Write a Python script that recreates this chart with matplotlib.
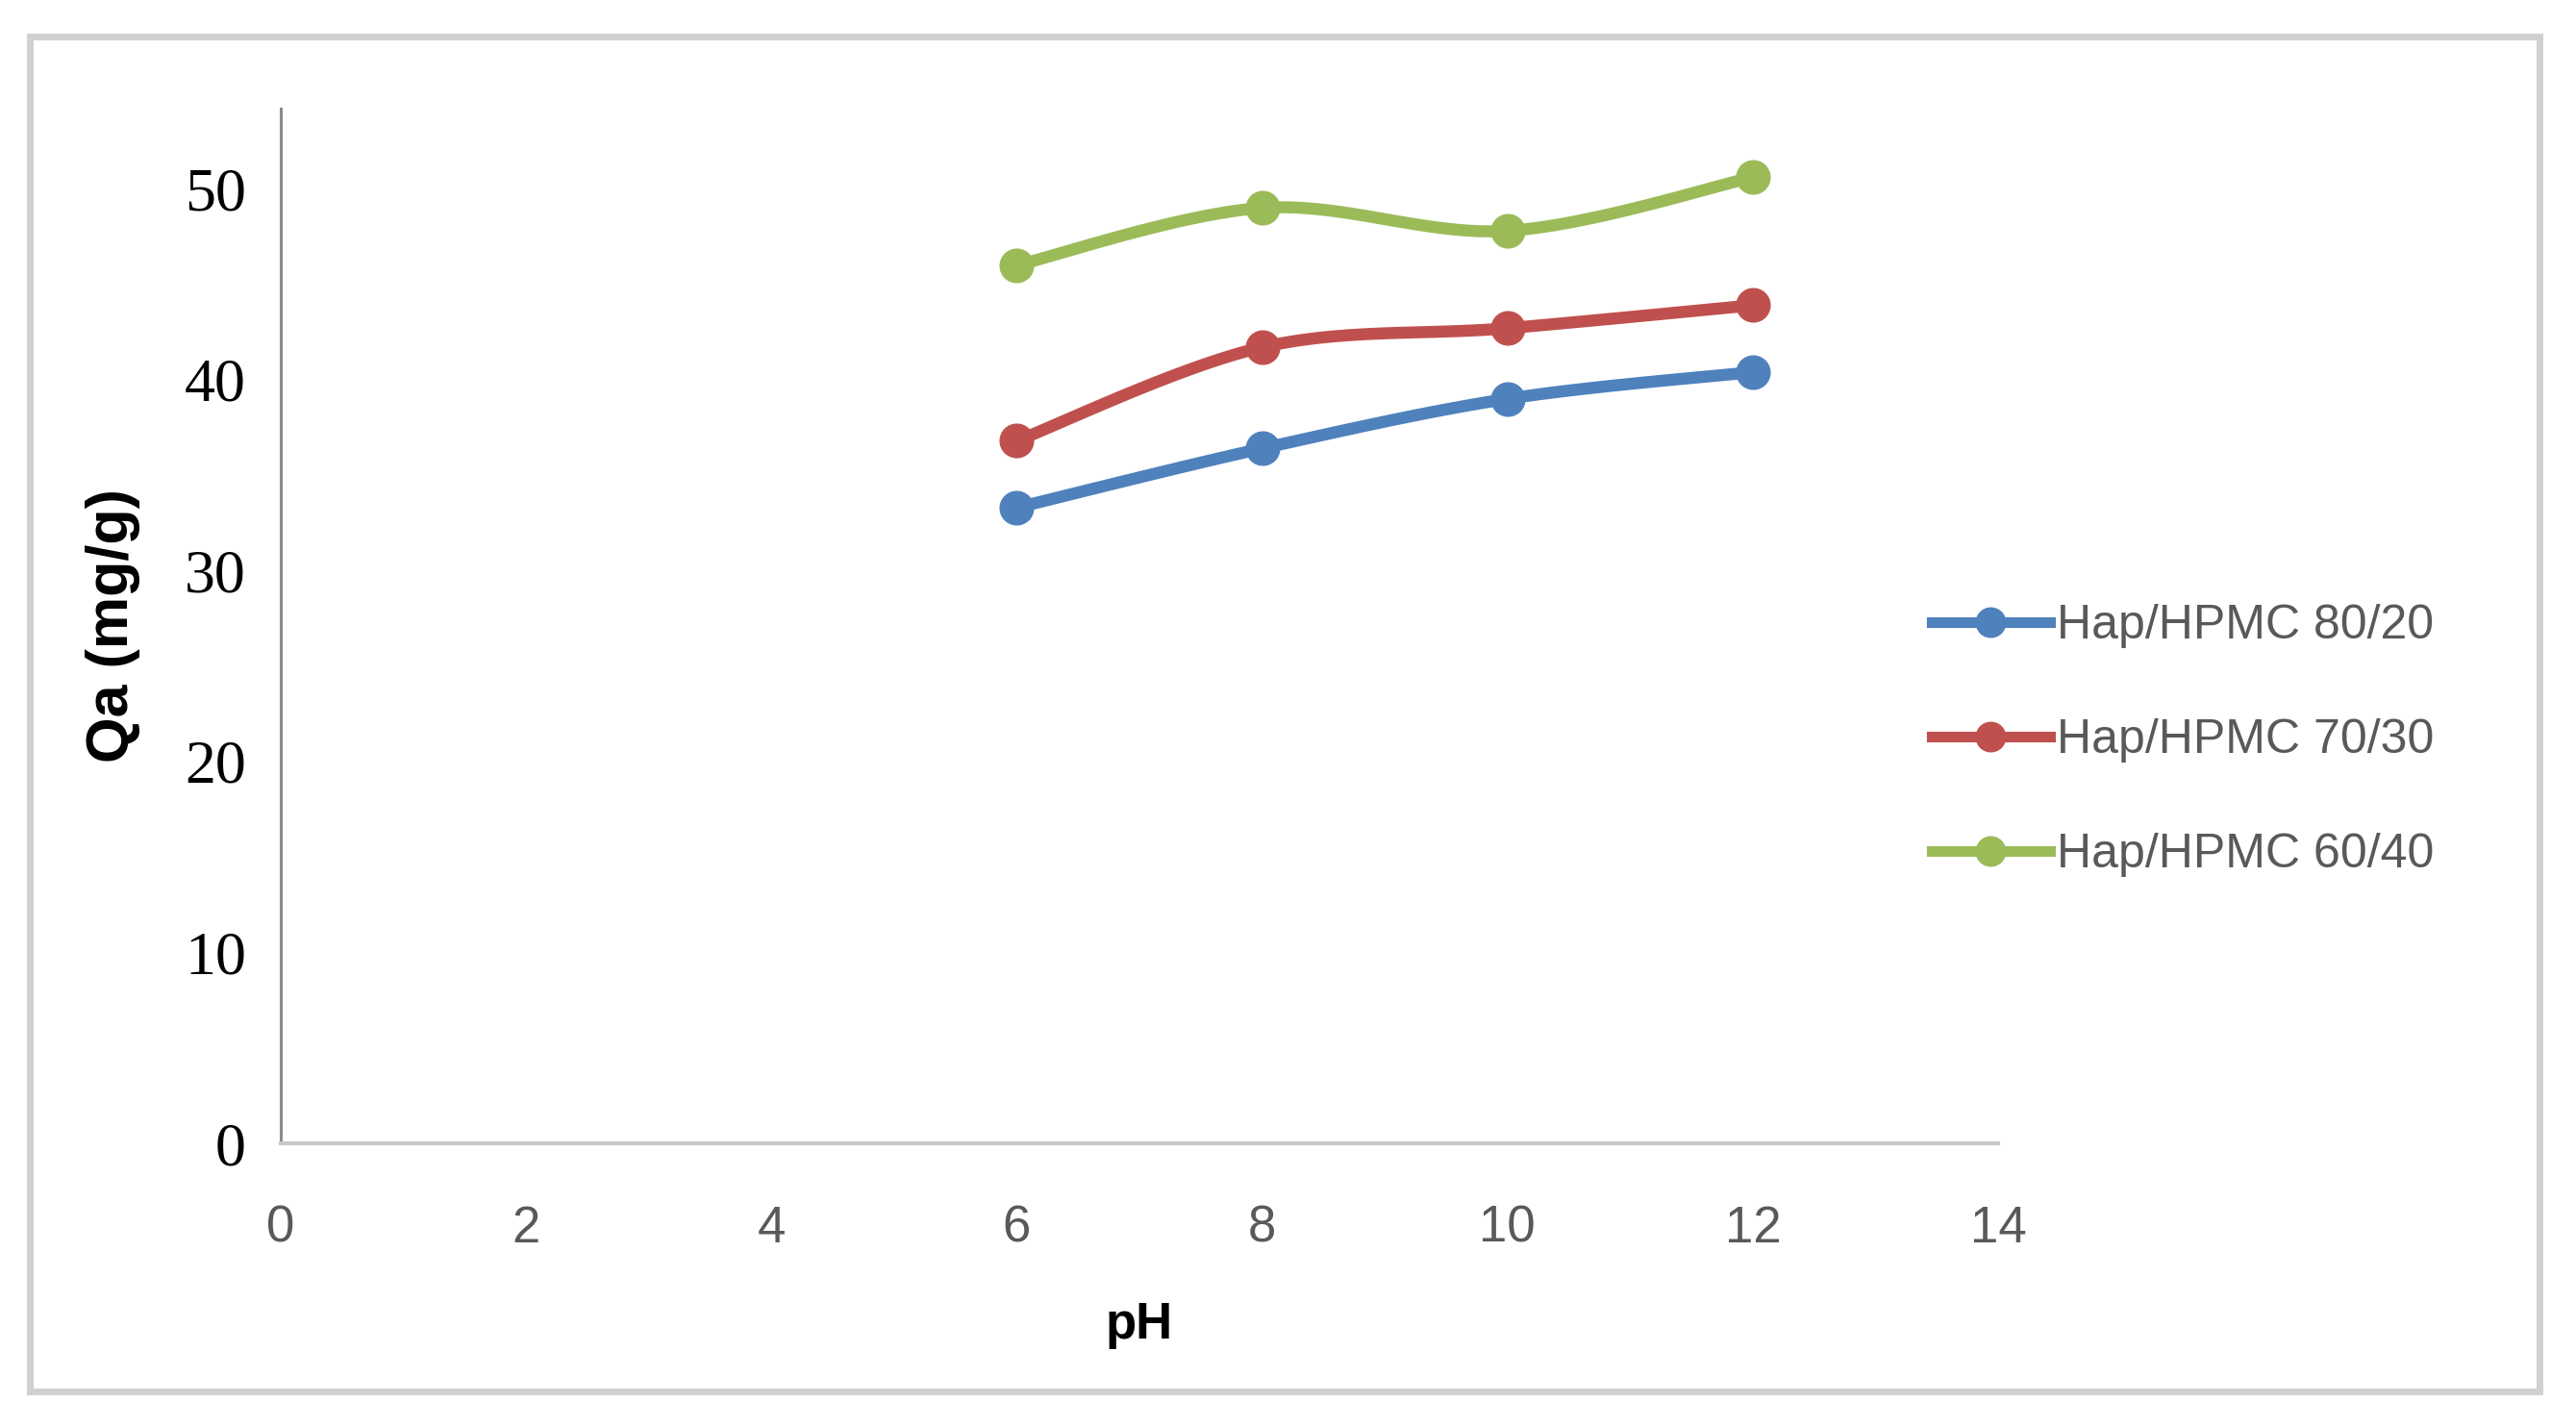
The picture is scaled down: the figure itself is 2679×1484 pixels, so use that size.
import numpy as np
import matplotlib
matplotlib.use("Agg")
import matplotlib.pyplot as plt
from matplotlib.patches import Rectangle
from matplotlib.lines import Line2D

# ---- data ----
ph = [6, 8, 10, 12]
s_80_20 = [33.3, 36.4, 39.0, 40.4]
s_70_30 = [36.8, 41.7, 42.7, 43.9]
s_60_40 = [46.0, 49.0, 47.8, 50.6]
labels = ["Hap/HPMC 80/20", "Hap/HPMC 70/30", "Hap/HPMC 60/40"]
colors = ["#4f81bd", "#c0504d", "#9bbb59"]
xticks = [0, 2, 4, 6, 8, 10, 12, 14]
yticks = [0, 10, 20, 30, 40, 50]


def smooth(x, y, n=40):
    """Excel-like smoothed line (Catmull-Rom style Bezier) through the points."""
    x = np.asarray(x, float)
    y = np.asarray(y, float)
    P = np.column_stack([x, y])
    out = []
    for i in range(len(P) - 1):
        p0 = P[i - 1] if i > 0 else P[i]
        p1 = P[i]
        p2 = P[i + 1]
        p3 = P[i + 2] if i + 2 < len(P) else P[i + 1]
        c1 = p1 + (p2 - p0) / 6.0
        c2 = p2 - (p3 - p1) / 6.0
        t = np.linspace(0, 1, n)[:, None]
        seg = ((1 - t) ** 3) * p1 + 3 * ((1 - t) ** 2) * t * c1 + 3 * (1 - t) * t ** 2 * c2 + t ** 3 * p2
        out.append(seg if i == 0 else seg[1:])
    out = np.vstack(out)
    return out[:, 0], out[:, 1]


W, H = 2679, 1484
fig = plt.figure(figsize=(W / 100, H / 100), dpi=100)
fig.patch.set_facecolor("white")

# outer border
fig.patches.append(Rectangle((31 / W, 1 - 1447 / H), (2641 - 31) / W, (1447 - 38) / H,
                             transform=fig.transFigure, fill=False,
                             edgecolor="#d0d0d0", linewidth=5))

ax = fig.add_axes([292 / W, 1 - 1189 / H, (2078 - 292) / W, (1189 - 113) / H])
ax.set_xlim(0, 14)
ax.set_ylim(0, 54.2)

for ys, c, lab in zip([s_80_20, s_70_30, s_60_40], colors, labels):
    sx, sy = smooth(ph, ys)
    ax.plot(sx, sy, color=c, lw=9, solid_capstyle="round", zorder=3)
    ax.plot(ph, ys, ls="none", marker="o", ms=25, color=c, zorder=4)

for side in ["top", "right"]:
    ax.spines[side].set_visible(False)
ax.spines["left"].set_color("#8c8c8c")
ax.spines["left"].set_linewidth(2.2)
ax.spines["bottom"].set_color("#c8c8c8")
ax.spines["bottom"].set_linewidth(3)

ax.set_xticks(xticks)
ax.set_yticks(yticks)
ax.set_xticklabels([str(v) for v in xticks], fontfamily="Liberation Sans",
                   fontsize=38, color="#595959")
ax.set_yticklabels([str(v) for v in yticks], fontfamily="Liberation Serif",
                   fontsize=46, color="black")
ax.tick_params(axis="both", length=0)
ax.tick_params(axis="x", pad=46)
ax.tick_params(axis="y", pad=26)

ax.set_xlabel("pH", fontfamily="Liberation Sans", fontweight="bold", fontsize=38, labelpad=36)
fig.text(118 / W, 1 - 651 / H, "Qa (mg/g)", rotation=90, ha="center", va="center",
         fontfamily="Liberation Sans", fontweight="bold", fontsize=44)

handles = [Line2D([], [], color=c, lw=8, marker="o", ms=22) for c in colors]
leg = fig.legend(handles, labels, loc="center left", bbox_to_anchor=(2009 / W, 1 - 770 / H),
                 frameon=False, borderpad=0, borderaxespad=0, handlelength=2.45,
                 handletextpad=0.15, labelspacing=1.46,
                 prop={"family": "Liberation Sans", "size": 36})
for t in leg.get_texts():
    t.set_color("#595959")

fig.savefig("out.png", dpi=100, facecolor="white")
